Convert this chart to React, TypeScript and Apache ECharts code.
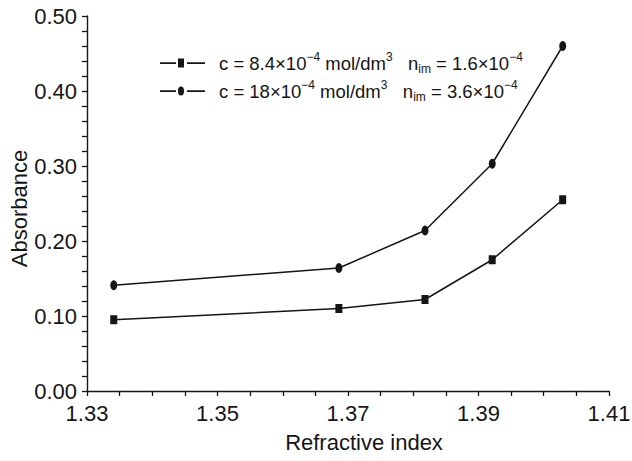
import React, { useEffect, useRef } from "react";
import * as echarts from "echarts";

const refractiveIdx = [1.3341, 1.3686, 1.3818, 1.3921, 1.4029];
const absorbanceLow = [0.095, 0.11, 0.122, 0.175, 0.255];
const absorbanceHigh = [0.141, 0.164, 0.214, 0.303, 0.46];
const seriesNames = ["low", "high"];
const legendLabels: Record<string, string> = {
  low: "{t|c = 8.4×10}{sup|−4}{t| mol/dm}{sup|3}{t|   n}{sub|im}{t| = 1.6×10}{sup|−4}",
  high: "{t|c = 18×10}{sup|−4}{t| mol/dm}{sup|3}{t|   n}{sub|im}{t| = 3.6×10}{sup|−4}",
};

const FONT = "'Liberation Sans', Arial, Helvetica, sans-serif";
const INK = "#151515";

const iconSquare =
  "path://M0,4.2 h16 v1.8 h-16 z M18,0.5 h6 v9 h-6 z M27,4.2 h18 v1.8 h-18 z";
const iconCircle =
  "path://M0,4.2 h16 v1.8 h-16 z M18,5 A3,4.5 0 1,0 24,5 A3,4.5 0 1,0 18,5 z M27,4.2 h18 v1.8 h-18 z";

export default function App() {
  const ref = useRef<HTMLDivElement>(null);
  useEffect(() => {
    if (!ref.current) return;
    const chart = echarts.init(ref.current, undefined, { renderer: "svg" });
    const mk = (ys: number[]) => refractiveIdx.map((x, i) => [x, ys[i]]);
    chart.setOption({
      animation: false,
      backgroundColor: "#fff",
      textStyle: { fontFamily: FONT },
      grid: { left: 87, right: 23, top: 16, bottom: 70, outerBoundsMode: "none", containLabel: false },
      legend: {
        orient: "vertical",
        left: 155,
        top: 46,
        itemWidth: 45,
        itemHeight: 10,
        itemGap: 4,
        data: seriesNames.map((n, i) => ({ name: n, icon: i === 0 ? iconSquare : iconCircle })),
        formatter: (n: string) => legendLabels[n],
        textStyle: {
          padding: [0, 0, 0, 9],
          rich: {
            t: { fontSize: 18.5, color: INK, lineHeight: 24, verticalAlign: "middle", fontFamily: FONT },
            sup: { fontSize: 12, color: INK, lineHeight: 14, verticalAlign: "top", fontFamily: FONT },
            sub: { fontSize: 12, color: INK, lineHeight: 13, verticalAlign: "bottom", fontFamily: FONT },
          },
        },
      },
      xAxis: {
        type: "value",
        min: 1.33,
        max: 1.41,
        interval: 0.01,
        name: "Refractive index",
        nameLocation: "middle",
        nameGap: 40,
        nameMoveOverlap: false,
        nameTextStyle: { fontSize: 22, color: INK, padding: [0, 0, 0, 32], fontFamily: FONT },
        axisLine: { lineStyle: { color: INK, width: 1.4 } },
        axisTick: { length: 5, lineStyle: { color: INK, width: 1.3 } },
        minorTick: { show: true, splitNumber: 2, length: 5, lineStyle: { color: INK, width: 1.3 } },
        axisLabel: {
          fontSize: 22,
          color: INK,
          margin: 11,
          fontFamily: FONT,
          formatter: (v: number) => (Math.round(v * 100) % 2 === 1 ? v.toFixed(2) : ""),
        },
        splitLine: { show: false },
        minorSplitLine: { show: false },
      },
      yAxis: {
        type: "value",
        min: 0,
        max: 0.5,
        interval: 0.1,
        name: "Absorbance",
        nameLocation: "middle",
        nameGap: 57,
        nameMoveOverlap: false,
        nameTextStyle: { fontSize: 22, color: INK, padding: [0, 10, 0, 0], fontFamily: FONT },
        axisLine: { show: true, lineStyle: { color: INK, width: 1.4 } },
        axisTick: { show: true, length: 5, lineStyle: { color: INK, width: 1.3 } },
        minorTick: { show: true, splitNumber: 5, length: 5, lineStyle: { color: INK, width: 1.3 } },
        axisLabel: {
          fontSize: 22,
          color: INK,
          margin: 10,
          fontFamily: FONT,
          formatter: (v: number) => v.toFixed(2),
        },
        splitLine: { show: false },
        minorSplitLine: { show: false },
      },
      series: [
        {
          name: "low",
          type: "line",
          data: mk(absorbanceLow),
          symbol: "rect",
          symbolSize: [7, 9],
          itemStyle: { color: INK },
          lineStyle: { color: INK, width: 1.5 },
        },
        {
          name: "high",
          type: "line",
          data: mk(absorbanceHigh),
          symbol: "circle",
          symbolSize: [7, 10],
          itemStyle: { color: INK },
          lineStyle: { color: INK, width: 1.5 },
        },
      ],
    });
    return () => chart.dispose();
  }, []);
  return <div ref={ref} style={{ width: 632, height: 461, position: "absolute", left: 0, top: 0 }} />;
}
